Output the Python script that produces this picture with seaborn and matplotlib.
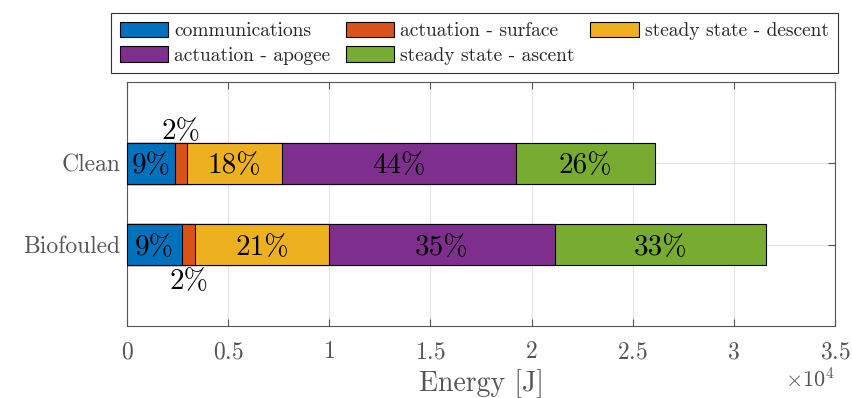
import numpy as np
import pandas as pd
import matplotlib
matplotlib.use("Agg")
import matplotlib.pyplot as plt
from matplotlib.patches import Patch
from matplotlib.ticker import ScalarFormatter
import seaborn as sns

# Energy budget per mission profile [J]
conditions = ["Clean", "Biofouled"]
components = [
    "communications",
    "actuation - surface",
    "steady state - descent",
    "actuation - apogee",
    "steady state - ascent",
]
clean_energy = [2370, 600, 4700, 11550, 6880]
biofouled_energy = [2720, 640, 6620, 11180, 10420]
x_ticks = [0, 5000, 10000, 15000, 20000, 25000, 30000, 35000]

colors = ["#0072BD", "#D95319", "#EDB120", "#7E2F8E", "#77AC30"]

sns.set_style("ticks")
plt.rcParams["font.family"] = ["cmr10", "DejaVu Serif"]
plt.rcParams["mathtext.fontset"] = "cm"
plt.rcParams["axes.formatter.use_mathtext"] = True
plt.rcParams["axes.unicode_minus"] = False

axis_grey = "#555555"


class CompactSciFormatter(ScalarFormatter):
    """Scientific offset formatter that drops trailing zeros (0, 0.5, 1, ...)."""

    def _set_format(self):
        self.format = r"$\mathdefault{%g}$"


energy = np.array([clean_energy, biofouled_energy], dtype=float)
cumulative = np.cumsum(energy, axis=1)
totals = energy.sum(axis=1)

df = pd.DataFrame(cumulative, columns=components)
df.insert(0, "condition", conditions)

fig = plt.figure(figsize=(8.53, 3.98), dpi=100)
ax = fig.add_axes([0.1489, 0.1809, 0.8300, 0.6131])

# Stacked bars: draw cumulative totals from the outermost segment inward
for i in reversed(range(len(components))):
    sns.barplot(
        data=df, x=components[i], y="condition", orient="h",
        color=colors[i], saturation=1, width=0.5,
        edgecolor="black", linewidth=0.8, ax=ax, zorder=3,
    )

ax.set_xlim(0, 35000)
ax.set_ylim(2, -1)
ax.set_xticks(x_ticks)
fmt = CompactSciFormatter(useMathText=True)
fmt.set_powerlimits((4, 4))
ax.xaxis.set_major_formatter(fmt)
ax.xaxis.get_offset_text().set_fontsize(16)
ax.xaxis.get_offset_text().set_color(axis_grey)

ax.set_xlabel("Energy [J]", fontsize=20, color=axis_grey, labelpad=4)
ax.set_ylabel("")

ax.grid(True, color="#e3e3e3", linewidth=0.8, zorder=0)
ax.set_axisbelow(True)
for side in ["top", "right", "bottom", "left"]:
    ax.spines[side].set_visible(True)
    ax.spines[side].set_color(axis_grey)
    ax.spines[side].set_linewidth(0.8)
ax.tick_params(axis="both", direction="in", length=5, width=0.8,
               color=axis_grey, labelcolor=axis_grey, labelsize=17,
               top=True, right=True)
ax.tick_params(axis="x", pad=11)
ax.tick_params(axis="y", pad=5)

# Percentage labels for each segment
for row in range(len(conditions)):
    starts = cumulative[row] - energy[row]
    for i, value in enumerate(energy[row]):
        pct = int(round(100 * value / totals[row]))
        xc = starts[i] + value / 2
        if i == 1:
            yc = -0.42 if row == 0 else 1.425
        else:
            yc = row
        ax.text(xc, yc, f"{pct}%", ha="center", va="center_baseline",
                fontsize=21, color="black", zorder=5)

# Legend filled row by row (matplotlib fills columns first, so reorder)
order = [0, 3, 1, 4, 2]
handles = [Patch(facecolor=colors[i], edgecolor="black", linewidth=0.8) for i in order]
labels = [components[i] for i in order]
fig.legend(
    handles, labels, loc="upper left",
    bbox_to_anchor=(111 / 853, 1 - 13 / 398), bbox_transform=fig.transFigure,
    ncol=3, fontsize=14, frameon=True, fancybox=False, framealpha=1,
    edgecolor="#333333", handlelength=2.5, handleheight=0.85,
    handletextpad=0.3, columnspacing=0.8, labelspacing=0.3,
    borderpad=0.45, borderaxespad=0,
).get_frame().set_linewidth(0.8)

fig.savefig("out.png", dpi=100)
